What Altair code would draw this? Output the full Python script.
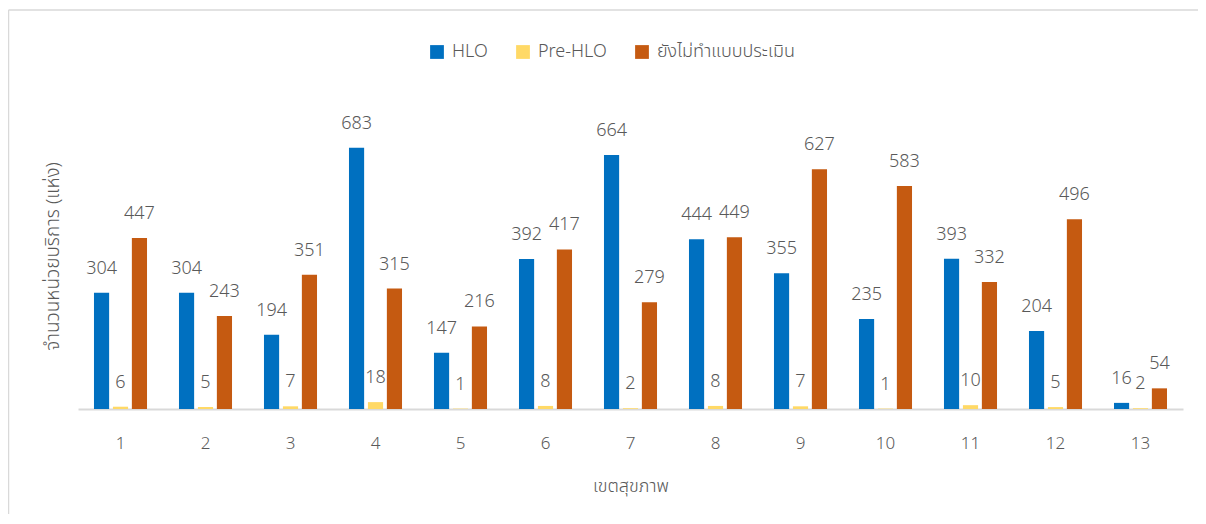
import altair as alt
import pandas as pd

regions = [str(i) for i in range(1, 14)]
series = ["HLO", "Pre-HLO", "ยังไม่ทำแบบประเมิน"]
hlo = [304, 304, 194, 683, 147, 392, 664, 444, 355, 235, 393, 204, 16]
pre_hlo = [6, 5, 7, 18, 1, 8, 2, 8, 7, 1, 10, 5, 2]
not_yet = [447, 243, 351, 315, 216, 417, 279, 449, 627, 583, 332, 496, 54]
colors = ["#0070C0", "#FFD966", "#C55A11"]

rows = []
for i, r in enumerate(regions):
    for s, vals in zip(series, [hlo, pre_hlo, not_yet]):
        rows.append({"region": r, "series": s, "value": vals[i]})
df = pd.DataFrame(rows)

FONT = "Noto Sans, Noto Sans Thai, Leelawadee UI, sans-serif"
GRAY = "#595959"

base = alt.Chart(df).encode(
    x=alt.X(
        "region:N",
        sort=regions,
        scale=alt.Scale(paddingInner=0.376, paddingOuter=0.188),
        axis=alt.Axis(
            title="เขตสุขภาพ",
            labelAngle=0,
            ticks=False,
            domainColor="#D9D9D9",
            domainWidth=2,
            labelPadding=26,
            labelFontSize=17,
            labelFontWeight=300,
            labelColor=GRAY,
            titleFontSize=18,
            titleColor=GRAY,
            titleFontWeight=300,
            titlePadding=26,
        ),
    ),
    xOffset=alt.XOffset("series:N", sort=series, scale=alt.Scale(paddingInner=0.2)),
    y=alt.Y(
        "value:Q",
        scale=alt.Scale(domain=[0, 800]),
        axis=alt.Axis(
            title="จำนวนหน่วยบริการ (แห่ง)",
            labels=False,
            ticks=False,
            domain=False,
            grid=False,
            titleFontSize=19,
            titleColor=GRAY,
            titleFontWeight=300,
            titlePadding=16,
        ),
    ),
)

bars = base.mark_bar().encode(
    color=alt.Color(
        "series:N",
        sort=series,
        scale=alt.Scale(domain=series, range=colors),
        legend=alt.Legend(
            title=None,
            orient="none",
            legendX=350,
            legendY=-60,
            direction="horizontal",
            symbolType="square",
            symbolSize=190,
            symbolStrokeWidth=0,
            labelFontSize=18,
            labelFontWeight=300,
            labelColor=GRAY,
            columnPadding=26,
            labelOffset=6,
        ),
    )
)

labels = base.mark_text(
    baseline="bottom", dy=-15, fontSize=18, fontWeight=300, color=GRAY, font=FONT
).encode(text="value:Q")

frame_top = alt.Chart(pd.DataFrame({"f": [0]})).mark_rule(
    stroke="#D9D9D9", strokeWidth=1.5
).encode(x=alt.value(-69.5), x2=alt.value(1120), y=alt.value(-93))

frame_left = alt.Chart(pd.DataFrame({"f": [0]})).mark_rule(
    stroke="#D9D9D9", strokeWidth=1.5
).encode(x=alt.value(-69.5), y=alt.value(-93), y2=alt.value(411))

chart = (
    alt.layer(frame_top, frame_left, bars, labels)
    .properties(
        width=1105,
        height=306,
        autosize=alt.AutoSizeParams(type="none"),
        padding={"left": 70, "top": 95, "right": 15, "bottom": 105},
    )
    .configure(font=FONT)
    .configure_view(stroke=None)
)

chart.save("out.html", embed_options={"renderer": "svg", "actions": False})
